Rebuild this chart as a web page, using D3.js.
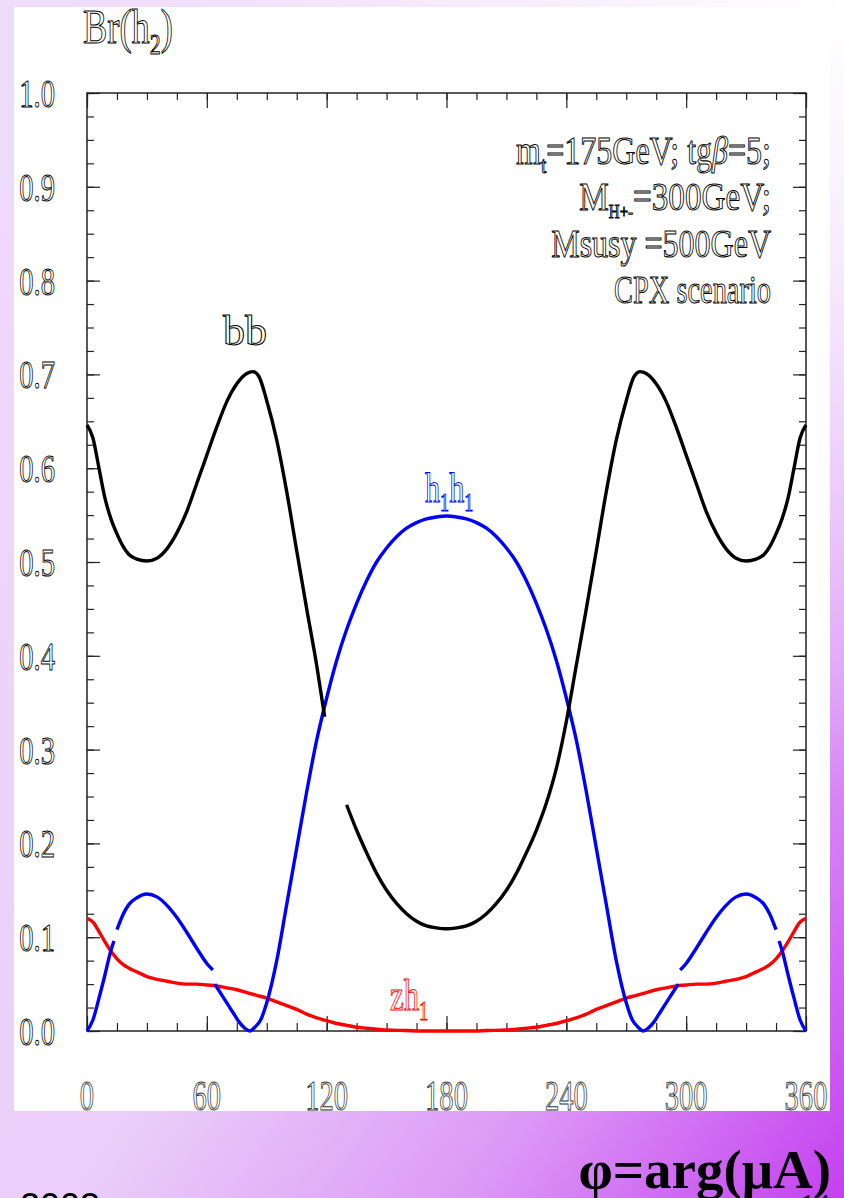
<!DOCTYPE html>
<html>
<head>
<meta charset="utf-8">
<script src="https://cdnjs.cloudflare.com/ajax/libs/d3/7.8.5/d3.min.js"></script>
<style>
  html, body { margin: 0; padding: 0; }
  svg { display: block; }
</style>
</head>
<body>
<svg id="chart" width="844" height="1198"></svg>
<script>
// x axis: phase in degrees, y axis: branching ratio
var xTicks = [0, 60, 120, 180, 240, 300, 360];
var xLabels = ["0", "60", "120", "180", "240", "300", "360"];
var yTicks = [0, 0.1, 0.2, 0.3, 0.4, 0.5, 0.6, 0.7, 0.8, 0.9, 1.0];
var yLabels = ["0.0", "0.1", "0.2", "0.3", "0.4", "0.5", "0.6", "0.7", "0.8", "0.9", "1.0"];

// bb channel, two pieces [phi, Br]
var bbLeft = [[0,0.646],[3,0.632],[6,0.600],[9,0.568],[12,0.546],[15,0.530],[18,0.517],[21,0.508],
  [25,0.503],[30,0.501],[35,0.504],[40,0.514],[45,0.531],[50,0.554],[55,0.584],[60,0.614],[65,0.644],
  [70,0.671],[75,0.690],[80,0.701],[83,0.703],[86,0.698],[90,0.672],[95,0.630],[100,0.575],[105,0.512],
  [110,0.450],[115,0.390],[119,0.335]];
var bbRight = [[130,0.241],[135,0.214],[140,0.190],[145,0.168],[150,0.150],[155,0.136],[160,0.125],
  [165,0.117],[170,0.112],[175,0.110],[180,0.109],[185,0.110],[190,0.112],[195,0.117],[200,0.125],
  [205,0.136],[210,0.150],[215,0.168],[220,0.190],[225,0.214],[230,0.243],[235,0.280],[240,0.330],
  [245,0.390],[250,0.450],[255,0.512],[260,0.575],[265,0.630],[270,0.672],[274,0.698],[277,0.703],
  [280,0.701],[285,0.690],[290,0.671],[295,0.644],[300,0.614],[305,0.584],[310,0.554],[315,0.531],
  [320,0.514],[325,0.504],[330,0.501],[335,0.503],[339,0.508],[342,0.517],[345,0.530],[348,0.546],
  [351,0.568],[354,0.600],[357,0.632],[360,0.646]];

// h1h1 channel, pieces
var hhPiece1 = [[0,0],[3,0.012],[6,0.035],[9,0.060],[12,0.086],[13.5,0.096]];
var hhPiece2 = [[15,0.108],[18,0.124],[21,0.135],[25,0.142],[30,0.146],[35,0.143],[40,0.134],
  [45,0.121],[50,0.105],[55,0.088],[60,0.072],[63,0.065]];
var hhPiece3 = [[64,0.050],[67,0.040],[70,0.030],[73,0.020],[76,0.010],[79,0.003],[81.5,0],[84,0.004],
  [87,0.012],[90,0.030],[95,0.075],[100,0.135],[105,0.195],[110,0.255],[115,0.310],[120,0.355],
  [125,0.395],[130,0.428],[135,0.456],[140,0.480],[145,0.500],[150,0.515],[155,0.527],[160,0.536],
  [165,0.542],[170,0.546],[175,0.548],[180,0.549],[185,0.548],[190,0.546],[195,0.542],[200,0.536],
  [205,0.527],[210,0.515],[215,0.500],[220,0.480],[225,0.456],[230,0.428],[235,0.395],[240,0.355],
  [245,0.310],[250,0.255],[255,0.195],[260,0.135],[265,0.075],[270,0.030],[273,0.012],[276,0.004],
  [278.5,0],[281,0.003],[284,0.010],[287,0.020],[290,0.030],[293,0.040],[296,0.050]];
var hhPiece4 = [[297,0.065],[300,0.072],[305,0.088],[310,0.105],[315,0.121],[320,0.134],[325,0.143],
  [330,0.146],[335,0.142],[339,0.135],[342,0.124],[345,0.108]];
var hhPiece5 = [[346.5,0.096],[348,0.086],[351,0.060],[354,0.035],[357,0.012],[360,0]];

// zh1 channel
var zh = [[0,0.120],[3,0.116],[6,0.106],[9,0.095],[12,0.085],[15,0.077],[18,0.071],[21,0.067],
  [25,0.063],[30,0.058],[35,0.055],[40,0.053],[45,0.051],[50,0.050],[55,0.050],[60,0.049],[65,0.048],
  [70,0.046],[75,0.044],[80,0.041],[85,0.038],[90,0.035],[95,0.031],[100,0.027],[105,0.023],
  [110,0.018],[115,0.014],[120,0.011],[125,0.008],[130,0.006],[135,0.004],[140,0.003],[145,0.002],
  [150,0.001],[160,0.0005],[167,0],[194,0],[200,0.0005],[210,0.001],[215,0.002],[220,0.003],
  [225,0.004],[230,0.006],[235,0.008],[240,0.011],[245,0.014],[250,0.018],[255,0.023],[260,0.027],
  [265,0.031],[270,0.035],[275,0.038],[280,0.041],[285,0.044],[290,0.046],[295,0.048],[300,0.049],
  [305,0.050],[310,0.050],[315,0.051],[320,0.053],[325,0.055],[330,0.058],[335,0.063],[339,0.067],
  [342,0.071],[345,0.077],[348,0.085],[351,0.095],[354,0.106],[357,0.116],[360,0.120]];

var svg = d3.select("#chart");
var serif = "'Liberation Serif','Times New Roman',serif";

// background
var defs = svg.append("defs");
var bg = defs.append("linearGradient").attr("id", "bg")
  .attr("x1", 0).attr("y1", 0).attr("x2", 1).attr("y2", 1);
bg.append("stop").attr("offset", 0).attr("stop-color", "#efdcfa");
bg.append("stop").attr("offset", 0.55).attr("stop-color", "#eacdf9");
bg.append("stop").attr("offset", 0.78).attr("stop-color", "#dc98f6");
bg.append("stop").attr("offset", 1).attr("stop-color", "#c440ef");
var glow = defs.append("radialGradient").attr("id", "glow")
  .attr("gradientUnits", "userSpaceOnUse").attr("cx", 844).attr("cy", 0).attr("r", 800);
glow.append("stop").attr("offset", 0).attr("stop-color", "#fff").attr("stop-opacity", 1);
glow.append("stop").attr("offset", 1).attr("stop-color", "#fff").attr("stop-opacity", 0);

svg.append("rect").attr("width", 844).attr("height", 1198).attr("fill", "url(#bg)");
svg.append("rect").attr("width", 844).attr("height", 1198).attr("fill", "url(#glow)");
svg.append("rect").attr("x", 14).attr("y", 7).attr("width", 816).attr("height", 1104).attr("fill", "#fff");

var x = d3.scaleLinear().domain([0, 360]).range([87, 806]);
var y = d3.scaleLinear().domain([0, 1]).range([1031, 93]);

var xMinor = d3.range(0, 361, 15);
var yMinor = d3.range(0, 1.0001, 0.025);

function ticks(axis, tx, ty) {
  svg.append("g").attr("transform", "translate(" + tx + "," + ty + ")")
    .call(axis)
    .call(g => g.select(".domain").remove())
    .call(g => g.selectAll("line").attr("stroke", "#222").attr("stroke-width", 1.2));
}
ticks(d3.axisLeft(y).tickValues(yMinor).tickSize(-7).tickFormat(""), 87, 0);
ticks(d3.axisLeft(y).tickValues(yTicks).tickSize(-13).tickFormat(""), 87, 0);
ticks(d3.axisRight(y).tickValues(yMinor).tickSize(-7).tickFormat(""), 806, 0);
ticks(d3.axisRight(y).tickValues(yTicks).tickSize(-13).tickFormat(""), 806, 0);
ticks(d3.axisBottom(x).tickValues(xMinor).tickSize(-8).tickFormat(""), 0, 1031);
ticks(d3.axisBottom(x).tickValues(xTicks).tickSize(-15).tickFormat(""), 0, 1031);
ticks(d3.axisTop(x).tickValues(xMinor).tickSize(-7).tickFormat(""), 0, 93);
ticks(d3.axisTop(x).tickValues(xTicks).tickSize(-15).tickFormat(""), 0, 93);

svg.append("rect").attr("x", 87).attr("y", 93).attr("width", 719).attr("height", 938)
  .attr("fill", "none").attr("stroke", "#222").attr("stroke-width", 1.5);

// hollow condensed serif text, parts: strings or {sub: "..."} or {it: "..."}
function label(px, py, parts, o) {
  var size = o.size;
  var t = svg.append("text")
    .attr("transform", "translate(" + px + "," + py + ") scale(" + o.sx + ",1)")
    .attr("text-anchor", o.anchor || "start")
    .style("font-family", serif)
    .style("font-size", size + "px")
    .attr("fill", o.fill || "#fff")
    .attr("stroke", o.color || "#000")
    .attr("stroke-width", o.sw || 1);
  var shift = 0;
  parts.forEach(p => {
    var s = t.append("tspan");
    if (typeof p === "string") {
      s.attr("dy", -shift).text(p);
      shift = 0;
    } else if (p.sub) {
      var d = size * (o.subDrop || 0.22);
      s.attr("dy", d - shift).style("font-size", (size * (o.subSize || 0.6)) + "px").text(p.sub);
      shift = d;
    } else if (p.it) {
      s.attr("dy", -shift).style("font-style", "italic").text(p.it);
      shift = 0;
    }
  });
  return t;
}

// tick labels
yTicks.forEach((v, i) => label(55, y(v) + 14, [yLabels[i]], {size: 41, sx: 0.7, anchor: "end"}));
xTicks.forEach((v, i) => label(x(v), 1110, [xLabels[i]], {size: 42, sx: 0.68, anchor: "middle", color: "#333"}));

label(83, 43, ["Br(h", {sub: "2"}, ")"], {size: 48, sx: 0.76});

// parameters box
label(771, 164, ["m", {sub: "t"}, "=175GeV; tg", {it: "β"}, "=5;"], {size: 40, sx: 0.8, anchor: "end"});
label(771, 210, ["M", {sub: "H+-"}, "=300GeV;"], {size: 40, sx: 0.83, anchor: "end", subSize: 0.45, subDrop: 0.2});
label(771, 257, ["Msusy =500GeV"], {size: 40, sx: 0.8, anchor: "end"});
label(771, 303, ["CPX scenario"], {size: 40, sx: 0.71, anchor: "end"});

// curves
var line = d3.line().x(d => x(d[0])).y(d => y(d[1])).curve(d3.curveMonotoneX);
function curve(data, color) {
  svg.append("path").attr("d", line(data)).attr("fill", "none")
    .attr("stroke", color).attr("stroke-width", 3.4).attr("stroke-linejoin", "round");
}
curve(zh, "#ff0000");
[hhPiece1, hhPiece2, hhPiece3, hhPiece4, hhPiece5].forEach(p => curve(p, "#0000ff"));
curve(bbLeft, "#000");
curve(bbRight, "#000");

// channel labels
label(245, 345, ["bb"], {size: 42, sx: 1.05, anchor: "middle"});
label(425, 502, ["h", {sub: "1"}, "h", {sub: "1"}], {size: 42, sx: 0.72, color: "#0000ff"});
label(390, 1010, ["zh", {sub: "1"}], {size: 44, sx: 0.7, color: "#ff0000"});

// slide footer
svg.append("text").attr("x", 831).attr("y", 1188).attr("text-anchor", "end")
  .style("font-family", serif).style("font-weight", "bold").style("font-size", "55px")
  .attr("fill", "#000").text("φ=arg(μA)");
svg.append("text").attr("x", 830).attr("y", 1214).attr("text-anchor", "end")
  .style("font-family", serif).style("font-size", "30px").attr("fill", "#000").text("14");
svg.append("text").attr("x", 20).attr("y", 1219)
  .style("font-family", "'Liberation Sans',Arial,sans-serif").style("font-size", "36px")
  .attr("fill", "#000").text("2003");
</script>
</body>
</html>
